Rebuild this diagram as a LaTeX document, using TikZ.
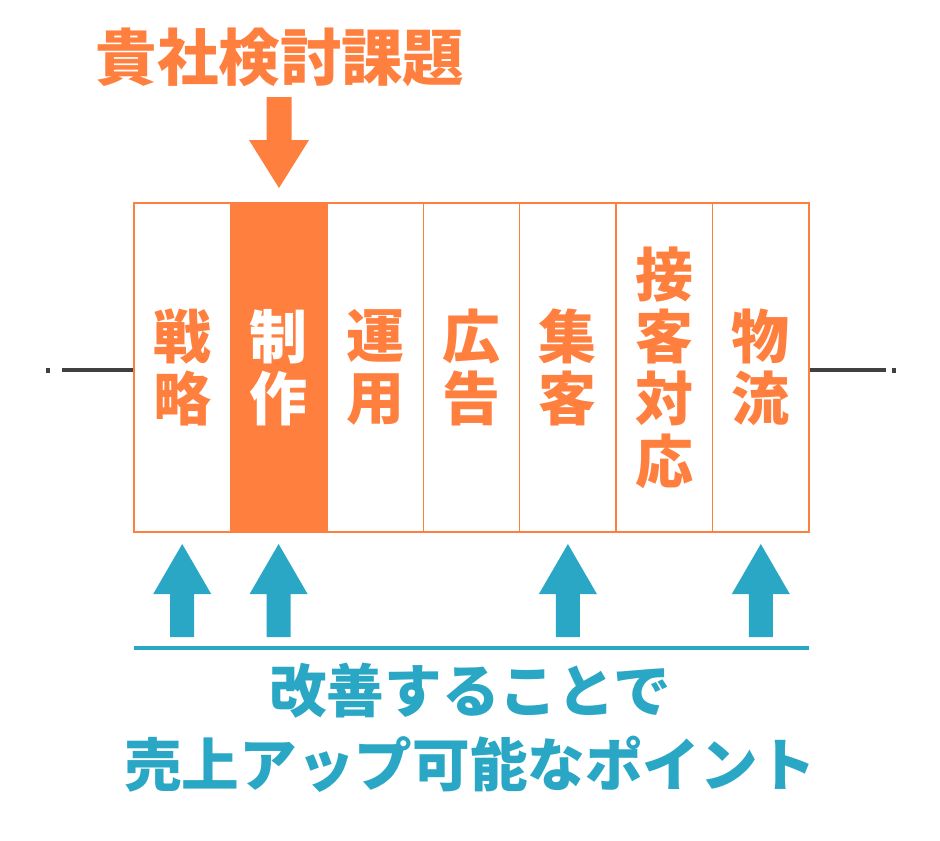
\documentclass[tikz,border=0pt]{standalone}
\usepackage{fontspec}
\newfontfamily\jp{Noto Sans CJK JP}
\usepackage{tikz}
\definecolor{kaki}{HTML}{FF7F3F}
\definecolor{aoi}{HTML}{29A7C4}
\definecolor{sumi}{HTML}{404040}

\begin{document}
\begin{tikzpicture}[x=0.02cm,y=-0.02cm,
	col/.style={draw=kaki,line width=0.8pt,rectangle,align=center,minimum width=1.9286cm,minimum height=6.58cm,inner sep=0pt,text=kaki,font=\jp\bfseries\fontsize{33}{35.5}\selectfont},
	axis/.style={sumi,line width=2.8pt},
	dnarr/.pic={\fill[kaki] (0,0) -- (-30,-48) -- (-12.5,-48) -- (-12.5,-91) -- (12.5,-91) -- (12.5,-48) -- (30,-48) -- cycle;},
	uparr/.pic={\fill[aoi] (0,0) -- (-29,50) -- (-12,50) -- (-12,93) -- (12,93) -- (12,50) -- (29,50) -- cycle;}]
\useasboundingbox (0,0) rectangle (940,840);
% title and arrow
\node[text=kaki,font=\jp\bfseries\fontsize{35}{40}\selectfont] (title) at (280,57) {貴社検討課題};
\pic at (279,188) {dnarr};
% axis line
\coordinate (lend) at (62,370);
\coordinate (rend) at (886,370);
\fill[sumi] (46,368) rectangle (50,372.5);
\fill[sumi] (892,368) rectangle (896,372.5);
\node[minimum width=13.5cm,minimum height=6.58cm,inner sep=0pt] (row) at (471.5,367.5) {};
\draw[axis] (lend) -- (lend -| row.west);
\draw[axis] (rend -| row.east) -- (rend);
% columns
\node[col] (c1) at (182.2,367.5) {戦\\略};
\node[col,fill=kaki,text=white] (c2) at (278.6,367.5) {制\\作};
\node[col] (c3) at (375.0,367.5) {運\\用};
\node[col] (c4) at (471.5,367.5) {広\\告};
\node[col] (c5) at (567.9,367.5) {集\\客};
\node[col] (c6) at (664.4,367.5) {接\\客\\対\\応};
\node[col] (c7) at (760.8,367.5) {物\\流};
% improvement points
\pic at (182.2,544) {uparr};
\pic at (278.6,544) {uparr};
\pic at (567.9,544) {uparr};
\pic at (760.8,544) {uparr};
\coordinate (bl) at (134,648);
\coordinate (br) at (809,648);
\draw[aoi,line width=2.3pt] (bl) -- (br);
\node[text=aoi,align=center,font=\jp\bfseries\fontsize{32.8}{42}\selectfont] (note) at (470,728) {改善することで\\売上アップ可能なポイント};
\end{tikzpicture}
\end{document}
